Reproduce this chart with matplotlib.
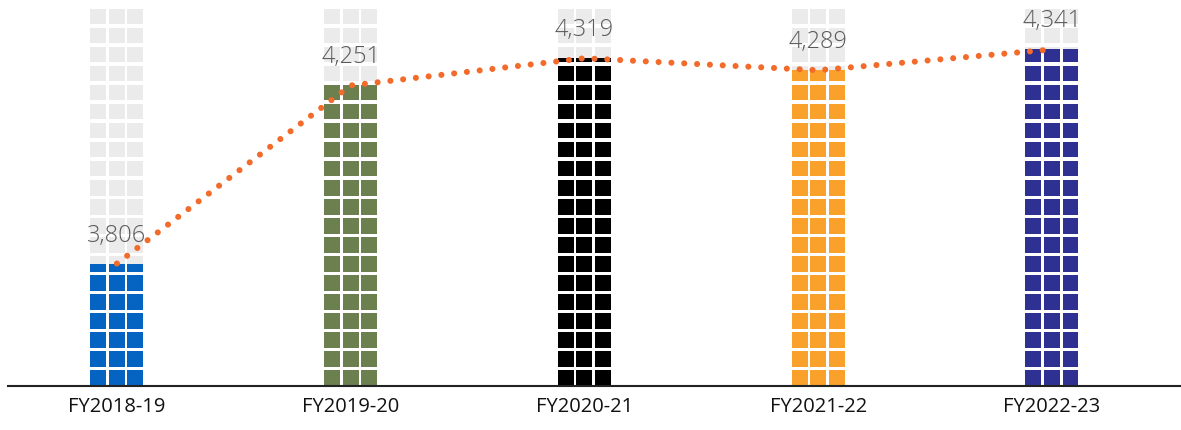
import matplotlib
matplotlib.use("Agg")
import matplotlib.pyplot as plt
from matplotlib.patches import Rectangle

categories = ["FY2018-19", "FY2019-20", "FY2020-21", "FY2021-22", "FY2022-23"]
values = [3806, 4251, 4319, 4289, 4341]
bar_colors = ["#0563C1", "#6B7F4F", "#000000", "#F9A12A", "#2E3192"]
value_labels = ["3,806", "4,251", "4,319", "4,289", "4,341"]

Y_MIN, Y_MAX = 3500, 4452
N_ROWS, N_COLS = 20, 3
BAR_W = 0.227
COL_GAP = 0.011
ROW_FILL = 0.815
GRAY = "#EBEBEB"
LINE_COLOR = "#F26B2A"

W, H = 1181, 430
fig = plt.figure(figsize=(W / 100, H / 100), dpi=100)
ax = fig.add_axes([8 / W, 44 / H, (W - 8) / W, 381 / H])
ax.set_xlim(-0.466, 4.552)
ax.set_ylim(Y_MIN, Y_MAX)

row_h = (Y_MAX - Y_MIN) / N_ROWS
cell_h = row_h * ROW_FILL
col_w = (BAR_W - (N_COLS - 1) * COL_GAP) / N_COLS

for i, (v, col) in enumerate(zip(values, bar_colors)):
    x0 = i - BAR_W / 2
    for r in range(N_ROWS):
        yb = Y_MIN + r * row_h
        for c in range(N_COLS):
            xc = x0 + c * (col_w + COL_GAP)
            ax.add_patch(Rectangle((xc, yb), col_w, cell_h, facecolor=GRAY,
                                   edgecolor="none", zorder=1))
            if yb < v:
                top = min(yb + cell_h, v)
                ax.add_patch(Rectangle((xc, yb), col_w, top - yb, facecolor=col,
                                       edgecolor="none", zorder=2))

xs = list(range(len(values)))
ax.plot(xs, values, color=LINE_COLOR, linewidth=4.4,
        linestyle=(0, (0.001, 2.1)), dash_capstyle="round", zorder=4)

for x, v, lab in zip(xs, values, value_labels):
    ax.annotate(lab, (x, v), xytext=(0, 11.5), textcoords="offset points",
                ha="center", va="bottom", fontsize=17, color="#5a5a5a",
                family="Open Sans", fontweight="light", zorder=5)

ax.set_xticks(xs)
ax.set_xticklabels(categories, fontsize=14.5, family="Open Sans", color="#111111")
ax.tick_params(axis="x", length=0, pad=8)
ax.set_yticks([])
for s in ["top", "right", "left"]:
    ax.spines[s].set_visible(False)
ax.spines["bottom"].set_color("#222222")
ax.spines["bottom"].set_linewidth(1.5)
ax.spines["bottom"].set_zorder(6)
ax.set_facecolor("white")

fig.savefig("out.png", dpi=100)
